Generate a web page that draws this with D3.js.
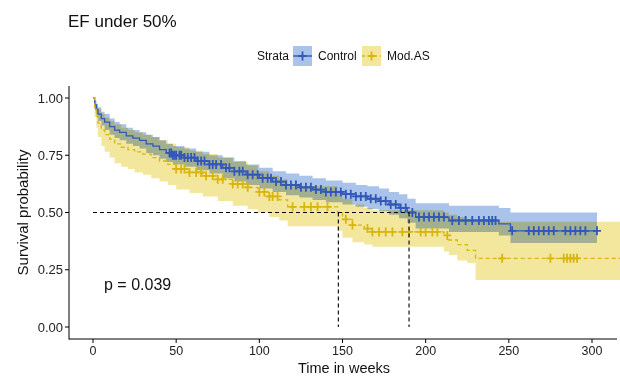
<!DOCTYPE html>
<html><head><meta charset="utf-8">
<script src="https://cdn.jsdelivr.net/npm/d3@7"></script>
<style>body{margin:0;background:#fff} svg{display:block;font-family:"Liberation Sans",Arial,sans-serif}</style>
</head><body><svg id="c" width="620" height="377"></svg>
<script>
const strata = ["Control", "Mod.AS"];
const xTicks = [0, 50, 100, 150, 200, 250, 300];
const yTicks = [0, 0.25, 0.5, 0.75, 1];
const yTickLabels = ["0.00", "0.25", "0.50", "0.75", "1.00"];

const controlTimes = [0,1,2,3,5,7,10,13,16,20,24,28,32,36,40,44,48,55,62,70,78,85,92,100,108,116,124,132,140,150,158,165,172,178,184,189,194,214,244,251,303];
const controlSurv  = [1,0.97,0.95,0.93,0.91,0.895,0.875,0.86,0.85,0.835,0.825,0.815,0.80,0.79,0.775,0.76,0.75,0.74,0.725,0.71,0.695,0.68,0.665,0.65,0.635,0.62,0.61,0.60,0.59,0.58,0.57,0.56,0.55,0.535,0.52,0.50,0.48,0.465,0.45,0.42,0.42];
const controlUpper = [1,0.99,0.975,0.96,0.94,0.93,0.91,0.895,0.885,0.87,0.86,0.85,0.84,0.83,0.815,0.80,0.79,0.78,0.765,0.75,0.74,0.725,0.71,0.695,0.68,0.67,0.66,0.65,0.64,0.63,0.62,0.615,0.605,0.59,0.58,0.56,0.54,0.53,0.52,0.50,0.50];
const controlLower = [1,0.95,0.925,0.90,0.88,0.86,0.84,0.825,0.815,0.80,0.79,0.78,0.76,0.75,0.735,0.72,0.71,0.70,0.685,0.67,0.65,0.635,0.62,0.605,0.59,0.575,0.565,0.555,0.545,0.535,0.525,0.515,0.505,0.49,0.475,0.455,0.43,0.415,0.40,0.367,0.367];
const controlCensor = [46,47,48,49,50,52,53,55,57,59,61,63,65,67,70,72,74,77,80,82,85,88,90,93,96,99,102,105,107,110,113,116,119,122,125,128,131,134,137,140,143,146,149,152,155,158,161,164,167,170,173,176,179,182,185,188,192,196,199,202,205,208,211,216,220,224,228,232,235,238,240,242,252,262,265,268,271,274,277,284,287,290,293,296,303];

const modTimes = [0,1,2,3,5,7,10,13,17,21,25,30,35,40,45,50,58,66,75,84,93,99,106,112,117,147,150,156,163,168,211,214,219,225,230,320];
const modSurv  = [1,0.96,0.92,0.89,0.86,0.84,0.82,0.80,0.785,0.775,0.765,0.755,0.74,0.725,0.71,0.69,0.675,0.66,0.645,0.625,0.61,0.59,0.57,0.555,0.525,0.50,0.47,0.445,0.43,0.415,0.40,0.38,0.36,0.335,0.30,0.30];
const modUpper = [1,0.99,0.97,0.95,0.93,0.915,0.90,0.885,0.87,0.86,0.85,0.84,0.83,0.815,0.80,0.785,0.77,0.755,0.74,0.72,0.705,0.68,0.66,0.645,0.615,0.59,0.56,0.535,0.52,0.51,0.50,0.49,0.48,0.47,0.46,0.46];
const modLower = [1,0.92,0.87,0.83,0.79,0.765,0.74,0.715,0.70,0.69,0.675,0.665,0.65,0.635,0.62,0.60,0.585,0.57,0.55,0.53,0.515,0.50,0.48,0.465,0.44,0.42,0.39,0.37,0.36,0.35,0.33,0.314,0.29,0.28,0.205,0.205];
const modCensor = [50,53,55,58,62,65,68,72,75,78,84,87,90,93,100,103,106,108,111,120,127,131,135,141,152,156,165,168,172,176,180,186,190,197,200,204,207,213,246,275,283,285,287,289,291];

const medians = [190, 147.5];

const colors = {
  Control: {line: "#3157b8", fill: "#aac3ea"},
  "Mod.AS": {line: "#d9b50f", fill: "#f3e79d"}
};

const svg = d3.select("#c");
const x = d3.scaleLinear().domain([0, 300]).range([93, 592]);
const y = d3.scaleLinear().domain([0, 1]).range([327, 98]);
const panel = {left: 69, right: 620, top: 86, bottom: 339};

svg.append("defs").append("clipPath").attr("id", "clip")
  .append("rect").attr("x", panel.left).attr("y", panel.top)
  .attr("width", panel.right - panel.left).attr("height", panel.bottom - panel.top);

const series = [
  {name: "Control", t: controlTimes, s: controlSurv, u: controlUpper, l: controlLower, c: controlCensor, dash: null},
  {name: "Mod.AS", t: modTimes, s: modSurv, u: modUpper, l: modLower, c: modCensor, dash: "4,3"}
];

const g = svg.append("g").attr("clip-path", "url(#clip)");

const area = d3.area().curve(d3.curveStepAfter)
  .x(d => x(d.t)).y0(d => y(d.l)).y1(d => y(d.u));
const line = d3.line().curve(d3.curveStepAfter).x(d => x(d.t)).y(d => y(d.s));

const bands = g.append("g").style("isolation", "isolate");
series.forEach(sr => {
  const pts = sr.t.map((t, i) => ({t, s: sr.s[i], u: sr.u[i], l: sr.l[i]}));
  bands.append("path").datum(pts).attr("d", area)
    .attr("fill", colors[sr.name].fill).style("mix-blend-mode", "multiply");
});

// median lines
const med = svg.append("g").attr("stroke", "#000").attr("stroke-width", 1.1).attr("stroke-dasharray", "4,3").attr("fill", "none");
med.append("line").attr("x1", x(0)).attr("x2", x(d3.max(medians))).attr("y1", y(0.5)).attr("y2", y(0.5));
medians.forEach(m => med.append("line").attr("x1", x(m)).attr("x2", x(m)).attr("y1", y(0.5)).attr("y2", y(0)));

series.forEach(sr => {
  const pts = sr.t.map((t, i) => ({t, s: sr.s[i]}));
  g.append("path").datum(pts).attr("d", line).attr("fill", "none")
    .attr("stroke", colors[sr.name].line).attr("stroke-width", 1.3)
    .attr("stroke-dasharray", sr.dash);
  const survAt = t => { let v = sr.s[0]; sr.t.forEach((tt, i) => { if (tt <= t) v = sr.s[i]; }); return v; };
  g.append("g").selectAll("path").data(sr.c).join("path")
    .attr("d", d => `M${x(d)-4},${y(survAt(d))}h8M${x(d)},${y(survAt(d))-4.5}v9`)
    .attr("stroke", colors[sr.name].line).attr("stroke-width", 1.8).attr("fill", "none");
});

// axes
const ax = svg.append("g").attr("stroke", "#000").attr("stroke-width", 1);
ax.append("line").attr("x1", panel.left).attr("x2", panel.left).attr("y1", panel.top).attr("y2", panel.bottom + 0.5);
ax.append("line").attr("x1", panel.left).attr("x2", 617).attr("y1", panel.bottom).attr("y2", panel.bottom);
yTicks.forEach((v, i) => {
  ax.append("line").attr("x1", panel.left - 4).attr("x2", panel.left).attr("y1", y(v)).attr("y2", y(v));
  svg.append("text").attr("x", panel.left - 6).attr("y", y(v)).attr("dy", "0.35em")
    .attr("text-anchor", "end").attr("font-size", 13).attr("fill", "#222").text(yTickLabels[i]);
});
xTicks.forEach(v => {
  ax.append("line").attr("x1", x(v)).attr("x2", x(v)).attr("y1", panel.bottom).attr("y2", panel.bottom + 4);
  svg.append("text").attr("x", x(v)).attr("y", panel.bottom + 16)
    .attr("text-anchor", "middle").attr("font-size", 12.5).attr("fill", "#222").text(v);
});

svg.append("text").attr("x", 344).attr("y", 373).attr("text-anchor", "middle").attr("font-size", 14.5).attr("fill", "#111").text("Time in weeks");
svg.append("text").attr("transform", `translate(28,${y(0.5)}) rotate(-90)`).attr("text-anchor", "middle").attr("font-size", 15).attr("fill", "#111").text("Survival probability");
svg.append("text").attr("x", 104).attr("y", 290).attr("font-size", 16).attr("fill", "#111").text("p = 0.039");
svg.append("text").attr("x", 68).attr("y", 27).attr("font-size", 17).attr("fill", "#111").text("EF under 50%");

// legend
const lg = svg.append("g").attr("transform", "translate(0,56)");
lg.append("text").attr("x", 257).attr("dy", "0.35em").attr("font-size", 12).attr("fill", "#111").text("Strata");
const keys = [{name: "Control", x: 293, tx: 318}, {name: "Mod.AS", x: 362, tx: 387}];
keys.forEach(k => {
  const c = colors[k.name];
  lg.append("rect").attr("x", k.x).attr("y", -10).attr("width", 19).attr("height", 20).attr("fill", c.fill);
  lg.append("line").attr("x1", k.x).attr("x2", k.x + 19).attr("y1", 0).attr("y2", 0)
    .attr("stroke", c.line).attr("stroke-width", 1.4).attr("stroke-dasharray", k.name === "Mod.AS" ? "3,3" : null);
  lg.append("path").attr("d", `M${k.x + 5.5},0h8M${k.x + 9.5},-4.5v9`).attr("stroke", c.line).attr("stroke-width", 1.8);
  lg.append("text").attr("x", k.tx).attr("dy", "0.35em").attr("font-size", 12).attr("fill", "#111").text(k.name);
});
</script></body></html>
